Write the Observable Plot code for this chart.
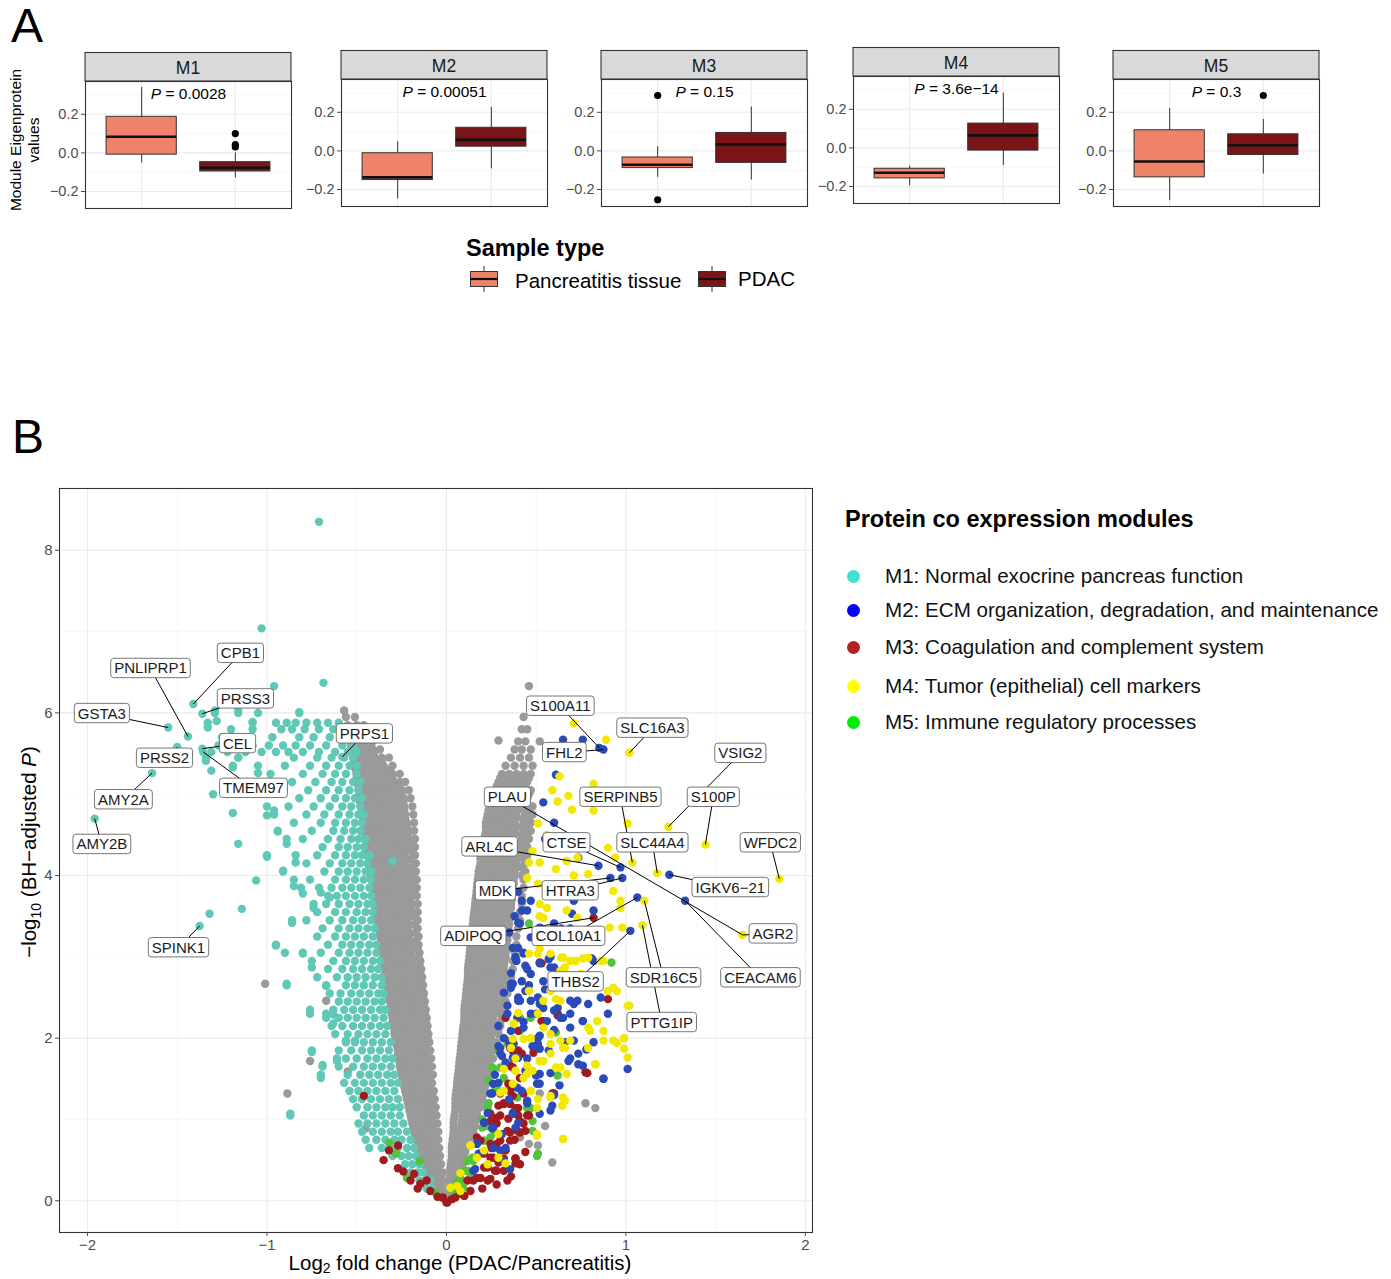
<!DOCTYPE html>
<html><head><meta charset="utf-8">
<script src="https://cdn.jsdelivr.net/npm/d3@7"></script>
<script src="https://cdn.jsdelivr.net/npm/@observablehq/plot@0.6"></script>
<style>
body{margin:0;background:#fff;}
#root{position:relative;width:1391px;height:1279px;overflow:hidden;background:#fff;font-family:"Liberation Sans",Arial,Helvetica,sans-serif;color:#000;}
.abs{position:absolute;white-space:nowrap;}
</style></head><body><div id="root"></div>
<script>
// ---------------- Panel A data ----------------
const modules = ["M1","M2","M3","M4","M5"];
const pValues = ["0.0028","0.00051","0.15","3.6e−14","0.3"];
const sampleTypes = ["Pancreatitis tissue","PDAC"];
// [lower whisker, Q1, median, Q3, upper whisker]
const pancStats = [[-0.052,-0.009,0.084,0.187,0.339],[-0.249,-0.151,-0.137,-0.012,0.048],[-0.137,-0.089,-0.072,-0.034,0.022],[-0.197,-0.158,-0.129,-0.108,-0.094],[-0.258,-0.137,-0.055,0.107,0.22]];
const pdacStats = [[-0.13,-0.096,-0.077,-0.048,0.0],[-0.093,0.022,0.057,0.12,0.225],[-0.151,-0.062,0.034,0.093,0.228],[-0.091,-0.014,0.065,0.126,0.284],[-0.12,-0.021,0.029,0.086,0.163]];
const outlierModule = ["M1","M1","M1","M3","M3","M5"];
const outlierSample = ["PDAC","PDAC","PDAC","Pancreatitis tissue","Pancreatitis tissue","PDAC"];
const outlierValue = [0.10,0.043,0.031,0.287,-0.253,0.287];
const boxColors = ["#EE836A","#7B1416"];

// ---------------- Panel B data ----------------
const moduleNames = ["M1: Normal exocrine pancreas function","M2: ECM organization, degradation, and maintenance","M3: Coagulation and complement system","M4: Tumor (epithelial) cell markers","M5: Immune regulatory processes"];
const legendColors = ["#40E0D0","#0000FF","#B22222","#FFFF00","#00EE00"];
const pointColors = ["#5FC8B6","#2A4BB7","#A11A1E","#F2E800","#55C23C"];
const greyColor = "#9A9A9A";
const xTicks = [-2,-1,0,1,2];
const yTicks = [0,2,4,6,8];
const xMinor = [-1.5,-0.5,0.5,1.5];
const yMinor = [1,3,5,7];

// rows: [-log10 P, log2FC values...]
const greyLeftRows = [
[0.05,-0.03,-0.01],[0.15,-0.06,-0.035,-0.01],[0.25,-0.08,-0.05,-0.02],[0.35,-0.1,-0.07,-0.04,-0.02],
[0.45,-0.12,-0.09,-0.06,-0.03],[0.55,-0.14,-0.1,-0.07,-0.035],[0.65,-0.15,-0.12,-0.08,-0.04],
[0.75,-0.17,-0.13,-0.09,-0.045],[0.85,-0.18,-0.14,-0.1,-0.065,-0.045],[0.95,-0.19,-0.15,-0.11,-0.075,-0.05],
[1.05,-0.2,-0.16,-0.12,-0.085,-0.055],[1.15,-0.21,-0.17,-0.13,-0.09,-0.06],[1.25,-0.22,-0.18,-0.14,-0.1,-0.065],
[1.35,-0.23,-0.19,-0.15,-0.11,-0.07],[1.45,-0.24,-0.2,-0.16,-0.12,-0.08],[1.55,-0.25,-0.21,-0.17,-0.13,-0.09,-0.075],
[1.65,-0.26,-0.22,-0.18,-0.14,-0.1,-0.08],[1.75,-0.265,-0.225,-0.185,-0.145,-0.11,-0.085],[1.85,-0.27,-0.23,-0.19,-0.15,-0.115,-0.09],
[1.95,-0.28,-0.24,-0.2,-0.16,-0.12,-0.095],[2.05,-0.29,-0.25,-0.21,-0.17,-0.13,-0.1],[2.15,-0.295,-0.255,-0.215,-0.175,-0.135,-0.105],
[2.25,-0.3,-0.26,-0.22,-0.18,-0.14,-0.11],[2.35,-0.31,-0.27,-0.23,-0.19,-0.15,-0.115],[2.45,-0.315,-0.275,-0.235,-0.195,-0.155,-0.12],
[2.55,-0.32,-0.28,-0.24,-0.2,-0.16,-0.125],[2.65,-0.33,-0.29,-0.25,-0.21,-0.17,-0.13],[2.75,-0.335,-0.295,-0.255,-0.215,-0.175,-0.135],
[2.85,-0.34,-0.3,-0.26,-0.22,-0.18,-0.14],[2.95,-0.35,-0.31,-0.27,-0.23,-0.19,-0.145],[3.05,-0.355,-0.315,-0.275,-0.235,-0.195,-0.15],
[3.15,-0.36,-0.32,-0.28,-0.24,-0.2,-0.155],[3.25,-0.37,-0.33,-0.29,-0.25,-0.21,-0.155],[3.35,-0.375,-0.335,-0.295,-0.255,-0.215,-0.16],
[3.45,-0.38,-0.34,-0.3,-0.26,-0.22,-0.16],[3.55,-0.39,-0.35,-0.31,-0.27,-0.23,-0.19,-0.16],[3.65,-0.395,-0.355,-0.315,-0.275,-0.235,-0.195,-0.16],
[3.75,-0.4,-0.36,-0.32,-0.28,-0.24,-0.2,-0.165],[3.85,-0.41,-0.37,-0.33,-0.29,-0.25,-0.21,-0.165],[3.95,-0.415,-0.375,-0.335,-0.295,-0.255,-0.215,-0.165],
[4.05,-0.42,-0.38,-0.34,-0.3,-0.26,-0.22,-0.17],[4.15,-0.43,-0.39,-0.35,-0.31,-0.27,-0.23,-0.17],[4.25,-0.435,-0.395,-0.355,-0.315,-0.275,-0.235,-0.175],
[4.35,-0.44,-0.4,-0.36,-0.32,-0.28,-0.24,-0.2,-0.175],[4.45,-0.45,-0.41,-0.37,-0.33,-0.29,-0.25,-0.21,-0.175],[4.55,-0.455,-0.415,-0.375,-0.335,-0.295,-0.255,-0.215,-0.18],
[4.65,-0.46,-0.42,-0.38,-0.34,-0.3,-0.26,-0.22,-0.18],[4.75,-0.47,-0.43,-0.39,-0.35,-0.31,-0.27,-0.23,-0.185],[4.85,-0.475,-0.435,-0.395,-0.355,-0.315,-0.275,-0.235,-0.19],
[4.95,-0.48,-0.44,-0.4,-0.36,-0.32,-0.28,-0.24,-0.2],[5.05,-0.49,-0.45,-0.41,-0.37,-0.33,-0.29,-0.25,-0.21],[5.15,-0.5,-0.46,-0.42,-0.38,-0.34,-0.3,-0.26,-0.23],
[5.25,-0.5,-0.46,-0.42,-0.38,-0.34,-0.3,-0.26],[5.35,-0.51,-0.47,-0.43,-0.39,-0.35,-0.3],[5.45,-0.52,-0.48,-0.44,-0.4,-0.36,-0.32],
[5.55,-0.53,-0.49,-0.45,-0.41,-0.37],[5.65,-0.53,-0.49,-0.45,-0.41],[5.75,-0.54,-0.5,-0.46,-0.43],[5.85,-0.55,-0.5,-0.46],[5.95,-0.56,-0.51]
];
const greyLeftRowsB = [
[0.1,-0.045,-0.02],[0.2,-0.065,-0.035],[0.3,-0.09,-0.06,-0.03],[0.4,-0.11,-0.08,-0.05],[0.5,-0.13,-0.1,-0.07,-0.045],
[0.6,-0.145,-0.11,-0.075,-0.05],[0.7,-0.16,-0.125,-0.09,-0.06],[0.8,-0.175,-0.14,-0.1,-0.065],[0.9,-0.185,-0.15,-0.115,-0.08],
[1.0,-0.195,-0.16,-0.12,-0.085],[1.1,-0.205,-0.17,-0.13,-0.095,-0.07],[1.2,-0.215,-0.18,-0.14,-0.1,-0.075],[1.3,-0.225,-0.19,-0.15,-0.11,-0.08],
[1.4,-0.235,-0.2,-0.16,-0.12,-0.09],[1.5,-0.245,-0.21,-0.17,-0.13,-0.1],[1.6,-0.255,-0.22,-0.18,-0.14,-0.11],[1.7,-0.26,-0.225,-0.185,-0.145,-0.11],
[1.8,-0.27,-0.23,-0.19,-0.15,-0.115],[1.9,-0.275,-0.24,-0.2,-0.16,-0.12],[2.0,-0.285,-0.25,-0.21,-0.17,-0.13,-0.105],[2.1,-0.29,-0.255,-0.215,-0.175,-0.135,-0.11],
[2.2,-0.3,-0.26,-0.22,-0.18,-0.14,-0.115],[2.3,-0.305,-0.27,-0.23,-0.19,-0.15,-0.12],[2.4,-0.31,-0.275,-0.235,-0.195,-0.155,-0.125],
[2.5,-0.32,-0.28,-0.24,-0.2,-0.16,-0.13],[2.6,-0.325,-0.29,-0.25,-0.21,-0.17,-0.135],[2.7,-0.33,-0.295,-0.255,-0.215,-0.175,-0.14],
[2.8,-0.34,-0.3,-0.26,-0.22,-0.18,-0.145],[2.9,-0.345,-0.31,-0.27,-0.23,-0.19,-0.15],[3.0,-0.35,-0.315,-0.275,-0.235,-0.195,-0.155],
[3.1,-0.36,-0.32,-0.28,-0.24,-0.2,-0.16],[3.2,-0.365,-0.33,-0.29,-0.25,-0.21,-0.17],[3.3,-0.37,-0.335,-0.295,-0.255,-0.215,-0.175],
[3.4,-0.38,-0.34,-0.3,-0.26,-0.22,-0.18],[3.5,-0.385,-0.35,-0.31,-0.27,-0.23,-0.19],[3.6,-0.39,-0.355,-0.315,-0.275,-0.235,-0.195],
[3.7,-0.4,-0.36,-0.32,-0.28,-0.24,-0.2],[3.8,-0.405,-0.37,-0.33,-0.29,-0.25,-0.21,-0.18],[3.9,-0.41,-0.375,-0.335,-0.295,-0.255,-0.215,-0.185],
[4.0,-0.42,-0.38,-0.34,-0.3,-0.26,-0.22,-0.19],[4.1,-0.425,-0.39,-0.35,-0.31,-0.27,-0.23,-0.195],[4.2,-0.43,-0.395,-0.355,-0.315,-0.275,-0.235,-0.2],
[4.3,-0.44,-0.4,-0.36,-0.32,-0.28,-0.24,-0.2],[4.4,-0.445,-0.41,-0.37,-0.33,-0.29,-0.25,-0.21],[4.5,-0.45,-0.415,-0.375,-0.335,-0.295,-0.255,-0.215],
[4.6,-0.46,-0.42,-0.38,-0.34,-0.3,-0.26,-0.22],[4.7,-0.465,-0.43,-0.39,-0.35,-0.31,-0.27,-0.23],[4.8,-0.47,-0.435,-0.395,-0.355,-0.315,-0.275,-0.235],
[4.9,-0.48,-0.44,-0.4,-0.36,-0.32,-0.28,-0.24],[5.0,-0.485,-0.45,-0.41,-0.37,-0.33,-0.29,-0.25],[5.1,-0.49,-0.455,-0.415,-0.375,-0.335,-0.295,-0.26],
[5.2,-0.5,-0.46,-0.42,-0.38,-0.34,-0.3],[5.3,-0.505,-0.47,-0.43,-0.39,-0.35,-0.32],[5.4,-0.515,-0.475,-0.435,-0.395,-0.36],
[5.5,-0.52,-0.485,-0.445,-0.405],[5.6,-0.53,-0.49,-0.45,-0.42]
];
const greyRightRows = [
[0.05,0.01,0.03],[0.15,0.015,0.045],[0.25,0.02,0.05,0.07],[0.35,0.02,0.05,0.08],[0.45,0.025,0.06,0.09],
[0.55,0.03,0.065,0.1],[0.65,0.03,0.07,0.11],[0.75,0.035,0.075,0.115,0.14],[0.85,0.04,0.08,0.12,0.15],
[0.95,0.04,0.085,0.125,0.16],[1.05,0.045,0.09,0.13,0.17],[1.15,0.05,0.09,0.13,0.17,0.19],[1.25,0.05,0.09,0.13,0.17,0.2],
[1.35,0.055,0.095,0.135,0.175,0.21],[1.45,0.06,0.1,0.14,0.18,0.22],[1.55,0.065,0.105,0.145,0.185,0.225],
[1.65,0.07,0.11,0.15,0.19,0.23,0.25],[1.75,0.075,0.115,0.155,0.195,0.235,0.26],[1.85,0.08,0.12,0.16,0.2,0.24,0.27],
[1.95,0.085,0.125,0.165,0.205,0.245,0.28],[2.05,0.09,0.13,0.17,0.21,0.25,0.29],[2.15,0.095,0.135,0.175,0.215,0.255,0.3],
[2.25,0.1,0.14,0.18,0.22,0.26,0.31],[2.35,0.1,0.14,0.18,0.22,0.26,0.3,0.32],[2.45,0.105,0.145,0.185,0.225,0.265,0.305,0.33],
[2.55,0.11,0.15,0.19,0.23,0.27,0.31,0.34],[2.65,0.115,0.155,0.195,0.235,0.275,0.315,0.35],[2.75,0.12,0.16,0.2,0.24,0.28,0.32,0.36],
[2.85,0.12,0.16,0.2,0.24,0.28,0.32,0.37],[2.95,0.125,0.165,0.205,0.245,0.285,0.325,0.37],[3.05,0.13,0.17,0.21,0.25,0.29,0.33,0.38],
[3.15,0.135,0.175,0.215,0.255,0.295,0.335,0.39],[3.25,0.14,0.18,0.22,0.26,0.3,0.34,0.39],[3.35,0.145,0.185,0.225,0.265,0.305,0.345,0.4],
[3.45,0.15,0.19,0.23,0.27,0.31,0.35,0.41],[3.55,0.155,0.195,0.235,0.275,0.315,0.355,0.41],[3.65,0.16,0.2,0.24,0.28,0.32,0.36,0.42],
[3.75,0.165,0.205,0.245,0.285,0.325,0.365,0.42],[3.85,0.17,0.21,0.25,0.29,0.33,0.37,0.43],[3.95,0.175,0.215,0.255,0.295,0.335,0.375,0.43],
[4.05,0.18,0.22,0.26,0.3,0.34,0.38,0.44],[4.15,0.19,0.23,0.27,0.31,0.35,0.39,0.44],[4.25,0.19,0.23,0.27,0.31,0.35,0.4,0.45],
[4.35,0.2,0.24,0.28,0.32,0.36,0.41,0.45],[4.45,0.21,0.25,0.29,0.33,0.37,0.42,0.46],[4.55,0.22,0.26,0.3,0.34,0.38,0.43,0.47],
[4.65,0.22,0.26,0.3,0.34,0.38,0.43,0.47],[4.75,0.23,0.27,0.31,0.35,0.39,0.44,0.48],[4.85,0.24,0.28,0.32,0.36,0.4,0.44,0.48],
[4.95,0.25,0.29,0.33,0.37,0.41,0.45],[5.05,0.27,0.31,0.35,0.39,0.43,0.47],[5.15,0.29,0.33,0.37,0.41,0.45],
[5.25,0.31,0.35,0.39,0.43,0.47],[5.35,0.33,0.38,0.43,0.48],[5.45,0.36,0.41,0.46],[5.55,0.38,0.42,0.47],
[5.65,0.4,0.44,0.52],[5.8,0.42,0.45],[5.95,0.43]
];
const greyRightRowsB = [
[0.1,0.012,0.04],[0.2,0.018,0.048],[0.3,0.02,0.05,0.075],[0.4,0.022,0.055,0.085],[0.5,0.028,0.062,0.095],
[0.6,0.03,0.068,0.105],[0.7,0.032,0.072,0.11,0.13],[0.8,0.038,0.078,0.118,0.145],[0.9,0.04,0.082,0.122,0.155],
[1.0,0.042,0.088,0.128,0.165],[1.1,0.048,0.09,0.13,0.17],[1.2,0.05,0.09,0.13,0.17,0.195],[1.3,0.052,0.092,0.132,0.172,0.205],
[1.4,0.058,0.098,0.138,0.178,0.215],[1.5,0.062,0.102,0.142,0.182,0.222],[1.6,0.068,0.108,0.148,0.188,0.228],
[1.7,0.072,0.112,0.152,0.192,0.232],[1.8,0.078,0.118,0.158,0.198,0.238],[1.9,0.082,0.122,0.162,0.202,0.242],
[2.0,0.088,0.128,0.168,0.208,0.248],[2.1,0.092,0.132,0.172,0.212,0.252,0.29],[2.2,0.098,0.138,0.178,0.218,0.258,0.3],
[2.3,0.1,0.14,0.18,0.22,0.26,0.3],[2.4,0.102,0.142,0.182,0.222,0.262,0.3],[2.5,0.108,0.148,0.188,0.228,0.268,0.31],
[2.6,0.112,0.152,0.192,0.232,0.272,0.31],[2.7,0.118,0.158,0.198,0.238,0.278,0.32],[2.8,0.12,0.16,0.2,0.24,0.28,0.32],
[2.9,0.122,0.162,0.202,0.242,0.282,0.322],[3.0,0.128,0.168,0.208,0.248,0.288,0.33],[3.1,0.132,0.172,0.212,0.252,0.292,0.335],
[3.2,0.138,0.178,0.218,0.258,0.298,0.34],[3.3,0.142,0.182,0.222,0.262,0.302,0.345],[3.4,0.148,0.188,0.228,0.268,0.308,0.35],
[3.5,0.152,0.192,0.232,0.272,0.312,0.355],[3.6,0.158,0.198,0.238,0.278,0.318,0.36],[3.7,0.162,0.202,0.242,0.282,0.322,0.365],
[3.8,0.168,0.208,0.248,0.288,0.328,0.37],[3.9,0.172,0.212,0.252,0.292,0.332,0.375],[4.0,0.178,0.218,0.258,0.298,0.338,0.38,0.42],
[4.1,0.185,0.225,0.265,0.305,0.345,0.385,0.42],[4.2,0.19,0.23,0.27,0.31,0.35,0.39,0.43],[4.3,0.195,0.235,0.275,0.315,0.355,0.395,0.43],
[4.4,0.205,0.245,0.285,0.325,0.365,0.405,0.44],[4.5,0.215,0.255,0.295,0.335,0.375,0.415,0.45],[4.6,0.22,0.26,0.3,0.34,0.38,0.42,0.45],
[4.7,0.225,0.265,0.305,0.345,0.385,0.425,0.46],[4.8,0.235,0.275,0.315,0.355,0.395,0.435,0.46],[4.9,0.245,0.285,0.325,0.365,0.405,0.445],
[5.0,0.26,0.3,0.34,0.38,0.42,0.46],[5.1,0.28,0.32,0.36,0.4,0.44],[5.2,0.3,0.34,0.38,0.42,0.46]
];
const greyOutliers = [[-1.01,2.67],[-0.886,1.32],[-0.76,1.72],[-0.67,2.46],[-0.55,1.59],[-0.45,0.89],[0.775,1.2],[0.83,1.14],[0.55,0.92],[0.46,0.7],[0.51,0.68],[0.59,0.47],[0.52,1.32],[0.41,0.78],[0.46,6.33],[-0.57,6.03],[0.29,5.66]];

const m1Rows = [
[0.15,-0.11,-0.08],[0.25,-0.15,-0.12,-0.09],[0.35,-0.2,-0.16,-0.13],[0.45,-0.23,-0.19,-0.15],
[0.55,-0.3,-0.25,-0.21,-0.17],[0.65,-0.43,-0.36,-0.31,-0.27,-0.22,-0.18],[0.75,-0.45,-0.39,-0.34,-0.29,-0.25,-0.2],
[0.85,-0.47,-0.41,-0.36,-0.31,-0.27,-0.22],[0.95,-0.49,-0.44,-0.39,-0.34,-0.29,-0.24],[1.05,-0.87,-0.46,-0.41,-0.36,-0.31,-0.26],
[1.15,-0.5,-0.44,-0.39,-0.34,-0.3,-0.26],[1.25,-0.52,-0.47,-0.42,-0.37,-0.32,-0.27],[1.35,-0.54,-0.49,-0.44,-0.39,-0.34,-0.29],
[1.45,-0.57,-0.51,-0.46,-0.41,-0.36,-0.31,-0.27],[1.55,-0.7,-0.55,-0.48,-0.43,-0.38,-0.33,-0.29],[1.65,-0.69,-0.6,-0.52,-0.46,-0.41,-0.36,-0.31],
[1.75,-0.61,-0.56,-0.5,-0.44,-0.39,-0.34,-0.3],[1.85,-0.75,-0.6,-0.53,-0.47,-0.42,-0.37,-0.32],[1.95,-0.56,-0.51,-0.46,-0.41,-0.36,-0.31],
[2.05,-0.62,-0.55,-0.49,-0.44,-0.39,-0.34],[2.15,-0.64,-0.58,-0.52,-0.47,-0.42,-0.37,-0.33],[2.25,-0.67,-0.6,-0.55,-0.5,-0.45,-0.4,-0.35],
[2.35,-0.76,-0.63,-0.57,-0.52,-0.47,-0.42,-0.37,-0.34],[2.45,-0.6,-0.55,-0.5,-0.45,-0.4,-0.36],[2.55,-0.65,-0.59,-0.53,-0.48,-0.43,-0.38,-0.35],
[2.65,-0.89,-0.67,-0.56,-0.51,-0.46,-0.41,-0.36],[2.75,-0.72,-0.61,-0.55,-0.5,-0.45,-0.4,-0.36],[2.85,-0.66,-0.58,-0.52,-0.47,-0.42,-0.38],
[2.95,-0.75,-0.63,-0.56,-0.51,-0.46,-0.41,-0.37],[3.05,-0.8,-0.7,-0.6,-0.54,-0.49,-0.44,-0.39],[3.15,-0.95,-0.66,-0.58,-0.53,-0.48,-0.43,-0.39],
[3.25,-0.72,-0.62,-0.56,-0.51,-0.46,-0.41],[3.35,-0.69,-0.6,-0.54,-0.49,-0.44,-0.4],[3.45,-0.86,-0.78,-0.65,-0.58,-0.52,-0.47,-0.42],
[3.55,-0.72,-0.62,-0.56,-0.5,-0.45,-0.41],[3.65,-0.74,-0.67,-0.6,-0.54,-0.49,-0.44,-0.41],[3.75,-0.66,-0.61,-0.56,-0.51,-0.46,-0.42],
[3.85,-0.81,-0.71,-0.64,-0.58,-0.53,-0.48,-0.43],[3.95,-0.85,-0.76,-0.62,-0.56,-0.51,-0.46,-0.42],[4.05,-0.91,-0.68,-0.6,-0.55,-0.5,-0.45,-0.42],
[4.15,-0.78,-0.65,-0.58,-0.53,-0.48,-0.44],[4.25,-1.0,-0.84,-0.72,-0.62,-0.56,-0.51,-0.47,-0.43],[4.35,-0.69,-0.6,-0.55,-0.5,-0.46],
[4.45,-0.89,-0.8,-0.66,-0.59,-0.53,-0.49,-0.45],[4.55,-0.94,-0.75,-0.63,-0.57,-0.52,-0.48],[4.65,-0.85,-0.7,-0.62,-0.56,-0.51,-0.47],
[4.75,-0.96,-0.78,-0.68,-0.6,-0.54,-0.49,-0.46],[4.85,-1.0,-0.88,-0.74,-0.65,-0.58,-0.53,-0.48],[4.95,-0.82,-0.7,-0.62,-0.56,-0.51,-0.47],
[5.05,-0.93,-0.77,-0.67,-0.6,-0.54,-0.49],[5.15,-0.86,-0.73,-0.64,-0.58,-0.52,-0.48],[5.25,-0.98,-0.8,-0.69,-0.62,-0.56,-0.5],
[5.35,-1.19,-1.05,-0.9,-0.76,-0.67,-0.6,-0.54,-0.5],[5.45,-1.34,-1.16,-0.85,-0.72,-0.64,-0.57,-0.52],
[5.52,-1.31,-1.22,-1.12,-1.03,-0.95,-0.88,-0.8,-0.71,-0.62,-0.55,-0.5],[5.6,-1.27,-1.18,-1.08,-0.99,-0.91,-0.84,-0.76,-0.67,-0.58,-0.52],
[5.7,-1.25,-0.97,-0.82,-0.74,-0.65,-0.57],[5.8,-1.2,-1.08,-0.92,-0.86,-0.79,-0.71,-0.63,-0.56],
[5.88,-1.33,-1.08,-0.95,-0.89,-0.84,-0.78,-0.72,-0.66,-0.6],[6.0,-1.29,-1.16,-1.05,-0.82]
];
const m1Scatter = [[-0.71,8.35],[-1.03,7.04],[-0.685,6.37],[-0.96,6.33],[-1.44,5.71],[-1.41,6.11],[-1.36,5.99],[-1.55,5.82],[-1.36,5.56],[-1.5,5.58],[-1.355,5.52],[-1.64,5.26],[-1.96,4.7],[-1.375,3.38],[-0.58,5.46],
[-1.32,3.53],[-1.16,4.39],[-1.14,3.59],[-1.06,3.94],[-1.0,4.23],[-1.16,5.45],[-1.19,5.33],[-1.19,4.77],[-1.31,5.29],[-1.34,5.41],[-1.3,5.0],[-1.33,5.82],[-1.28,5.9],[-1.29,6.03],[-1.16,6.03],[-1.08,5.89],[-0.82,6.01],[-1.05,5.26],[-1.0,4.74],[-0.96,4.8],[-0.94,4.54],[-0.89,4.39],[-0.84,4.16],[-0.85,3.87],[-0.8,3.78],[-0.91,4.06],[-0.95,3.14],[-0.9,3.05],[-0.86,3.42],[-0.8,3.04],[-0.75,2.87],[-0.74,3.6],[-0.7,3.79],[-0.65,3.73],[-0.89,2.67],[-0.76,2.3],[-0.67,2.64],[-0.75,1.83],[-0.69,1.67],[-0.7,1.51],[-0.61,1.72],[-0.87,1.07],[-0.67,2.3],[-0.63,2.29],[-0.63,2.18],[-0.56,1.97],[-0.51,1.97],[-0.3,4.18]];
const m2Points = [[0.852,5.57],[0.875,5.55],[0.65,5.67],[0.76,5.67],[0.61,5.24],[0.54,4.9],[0.6,4.65],[0.847,4.12],[0.97,4.1],[1.242,4.01],[0.914,3.97],[0.98,3.97],[0.735,4.22],[0.4,3.8],[1.064,3.73],[1.33,3.69],[1.025,3.32],[0.42,3.69],[0.47,3.69],[0.45,3.57],[0.71,3.69],[0.82,3.57],[0.41,3.41],[0.47,3.24],[0.4,3.11],[0.43,3.04],[0.52,2.92],[0.58,2.87],[0.82,2.95],[0.36,2.67],[0.47,2.79],[0.41,2.46],[0.52,2.42],[0.71,2.42],[0.62,2.37],[0.76,2.21],[0.73,2.46],[0.71,1.97],[0.56,2.21],
[0.385,3.0],[0.44,2.89],[0.32,2.56],[0.37,2.67],[0.4,2.5],[0.47,2.46],[0.57,2.97],[0.69,2.46],[0.79,2.42],[0.5,2.3],[0.65,2.25],[0.69,2.13],[0.29,2.15],[0.36,2.09],[0.32,2.0],[0.52,2.03],[0.57,1.85],[0.69,1.75],[0.735,1.68],[1.01,1.62],[0.875,1.5],[0.3,1.81],[0.33,1.7],[0.4,1.76],[0.52,1.56],[0.245,1.32],[0.29,1.45],[0.505,1.44],[0.58,1.11],[0.52,1.07],[0.21,0.96],[0.26,0.9],[0.37,1.07],[0.17,0.7],[0.32,0.49],[0.26,0.65],[0.15,0.37],[0.385,0.9],
[0.35,3.3],[0.38,3.5],[0.36,2.8],[0.39,2.95],[0.34,2.4],[0.43,2.2],[0.46,2.65],[0.55,2.6],[0.6,2.1],[0.44,1.6],[0.48,1.9],[0.27,1.55],[0.35,1.25],[0.42,1.35],[0.63,1.42],[0.6,1.3],[0.66,1.95],[0.82,1.95],[0.78,1.86],[0.9,2.3],[0.86,2.5],[0.55,4.45],[0.64,3.35],[0.35,1.95],[0.45,1.2],
[0.42,3.57],[0.4,3.42],[0.37,3.11],[0.385,2.98],[0.43,3.05],[0.45,2.85],[0.42,2.7],[0.36,2.62],[0.44,2.58],[0.4,2.46],[0.51,2.5],[0.34,2.3],[0.395,2.25],[0.47,2.3],[0.36,2.09],[0.43,2.13],[0.3,1.88],[0.375,1.93],[0.51,2.0],[0.54,2.37],[0.6,2.34],[0.635,2.25],[0.69,2.3],[0.76,2.21],[0.54,2.7],[0.6,2.87],[0.71,2.74],[0.58,3.0],[0.81,2.98],[0.51,3.28],[0.52,3.36],[0.7,3.53],[0.69,3.35],[0.6,3.41],
[0.29,1.9],[0.31,1.78],[0.37,1.76],[0.45,1.75],[0.51,1.93],[0.58,1.57],[0.52,1.44],[0.5,1.54],[0.26,1.44],[0.255,1.32],[0.395,1.39],[0.45,1.23],[0.59,1.17],[0.23,1.08],[0.37,1.08],[0.21,0.96],[0.4,0.96],[0.255,0.89],[0.31,0.82],[0.17,0.7],[0.33,0.65],[0.18,0.58],[0.3,0.62],[0.16,0.39],[0.355,0.39],[0.735,1.81],[0.875,1.5],[0.68,1.72],[0.76,1.66],[0.52,1.87]];
const m3Points = [[0.82,3.48],[0.53,2.92],[0.9,2.48],[0.62,2.3],[0.4,2.09],[0.54,2.21],[0.33,2.25],[0.62,2.28],[0.775,1.58],[0.37,1.85],[0.42,1.81],[0.485,1.82],[0.37,1.64],[0.355,1.35],[0.29,1.17],[0.32,1.2],[0.355,1.19],[0.4,1.14],[0.245,1.07],[0.3,1.05],[0.4,1.05],[0.43,0.95],[0.45,1.05],[0.59,1.32],[0.28,0.95],[0.355,0.84],[0.41,0.84],[0.17,0.78],[0.28,0.7],[0.19,0.58],[0.245,0.53],[0.385,0.52],[0.29,0.47],[0.21,0.41],[0.27,0.37],[0.17,0.28],[0.23,0.25],[0.117,0.25],[0.134,0.12],[0.32,0.37],[0.34,0.25],[0.36,0.3],[0.41,0.45],[0.44,0.6],[0.28,0.2],[0.2,0.15],[0.1,0.06],[0.03,0.02],[0.38,0.75],[0.33,0.62],[0.25,0.65],[0,-0.02],[0.05,0.04],
[0.52,2.93],[0.375,1.82],[0.4,1.83],[0.53,2.21],
[0.355,1.88],[0.4,1.85],[0.355,1.66],[0.41,1.51],[0.345,1.44],[0.3,1.32],[0.37,1.29],[0.43,1.32],[0.32,1.19],[0.385,1.14],[0.46,1.05],[0.28,1.02],[0.345,1.01],[0.245,0.98],[0.41,0.98],[0.34,0.86],[0.395,0.86],[0.19,0.74],[0.245,0.7],[0.3,0.74],[0.355,0.74],[0.21,0.58],[0.26,0.53],[0.32,0.52],[0.385,0.52],[0.23,0.41],[0.28,0.37],[0.19,0.28],[0.15,0.25],[0.245,0.27],[0.078,0.09],[0.005,-0.02],[0.785,1.57],[0.6,1.32],[0.44,0.86],[0.385,0.46],
[-0.46,1.29],[-0.27,0.68],[-0.35,0.5],[-0.32,0.62],[-0.24,0.36],[-0.18,0.33],[-0.145,0.21],[-0.11,0.25],[-0.09,0.12],[-0.02,0.04],[-0.2,0.25],[-0.16,0.15],[-0.05,0.05],[-0.27,0.4]];
const m4Points = [[0.71,5.87],[0.89,5.67],[1.02,5.51],[0.63,5.22],[0.82,5.13],[0.68,4.98],[0.62,4.91],[0.7,4.81],[0.82,4.8],[0.51,4.64],[1.01,4.64],[1.237,4.6],[0.9,4.34],[0.94,4.22],[0.46,4.16],[0.52,4.16],[0.67,4.18],[0.73,4.22],[0.61,4.08],[0.71,4.0],[0.79,4.02],[1.036,4.16],[1.175,4.03],[1.443,4.38],[1.855,3.96],[0.51,3.9],[0.45,3.97],[0.58,3.81],[0.79,3.79],[0.97,3.69],[1.103,3.69],[0.52,3.65],[0.54,3.48],[0.67,3.57],[0.73,3.48],[0.91,3.36],[0.98,3.36],[1.092,3.39],[1.65,3.27],[0.52,3.1],[0.58,3.04],[0.64,2.99],[0.72,2.95],[0.79,2.99],[0.875,2.95],[0.66,2.87],[0.75,2.79],[0.46,2.58],[0.58,2.58],[0.93,2.62],[1.02,2.4],[0.4,2.31],[0.51,2.3],[0.79,2.13],[0.875,1.97],[0.93,1.97],[0.99,2.0],
[0.46,3.04],[0.65,2.99],[0.76,2.98],[0.54,2.46],[0.635,2.46],[0.84,2.21],[0.8,2.09],[0.99,1.87],[1.01,1.76],[0.37,1.99],[0.43,1.99],[0.385,1.75],[0.45,1.66],[0.43,1.51],[0.54,1.72],[0.58,1.81],[0.65,1.88],[0.635,1.64],[0.67,1.56],[0.83,1.68],[0.37,1.44],[0.32,1.35],[0.47,1.35],[0.51,1.25],[0.58,1.27],[0.645,1.17],[0.65,1.27],[0.505,0.82],[0.65,0.76],[0.134,0.68],[0.21,0.62],[0.29,0.82],[0.078,0.12],[0.06,0.18],[0.23,0.45],[0.17,0.53],[0.56,4.5],[0.48,4.3],[0.59,5.05],
[0.52,3.5],[0.56,3.6],[0.51,3.04],[0.65,2.99],[0.69,2.95],[0.86,2.95],[0.635,2.83],[0.61,2.48],[0.9,2.58],[0.95,2.58],[0.93,3.81],[0.97,3.6],[1.01,2.4],[0.875,2.09],[0.99,2.0],[0.95,1.94],[0.54,2.13],[0.58,2.05],[0.635,1.97],[0.69,1.97],[0.375,2.18],[0.36,1.88],[0.79,1.88],[0.47,2.0],
[0.32,1.62],[0.385,1.6],[0.48,1.6],[0.3,1.33],[0.505,1.14],[0.47,1.35],[0.58,1.29],[0.66,1.23],[0.645,1.17],[0.505,0.8],[0.65,0.76],[0.134,0.68],[0.29,0.53],[0.33,0.46],[0.078,0.34],[0.022,0.16],[0.66,1.88],[0.58,1.93],[0.61,1.64],[0.83,1.68],[0.45,1.56],[0.52,1.72]];
const m5Points = [[0.46,3.41],[0.92,2.93],[0.61,2.07],[0.36,1.94],[0.47,2.25],[0.41,2.09],[0.34,1.97],[0.26,1.62],[0.3,1.64],[0.32,1.51],[0.62,1.54],[0.235,1.2],[0.47,1.14],[0.48,0.86],[0.23,0.92],[0.245,0.78],[0.27,0.84],[0.51,0.58],[0.21,0.74],[0.15,0.49],[0.095,0.37],[0.134,0.33],[0.06,0.25],[0.09,0.16],[-0.03,0.04],[0.02,0.02],[0.28,1.38],[0.2,1.0],
[0.41,2.25],[0.35,1.93],[0.255,1.64],[0.235,1.48],[0.23,1.14],[0.2,0.9],[0.17,0.7],[0.145,0.53],[0.117,0.37],[0.078,0.25],[0.04,0.12],[0.095,0.16],[0.27,1.35],[0.29,1.85],[0.34,1.93],[0.395,1.27],[0.45,1.14],[0.48,0.98],[0.505,0.55],[0.21,0.74],[0.27,0.65],[0.117,0.49],
[-0.32,0.71],[-0.28,0.58],[-0.15,0.49],[-0.22,0.28],[-0.06,0.1]];

const geneNames = ["PNLIPRP1","CPB1","PRSS3","GSTA3","CEL","PRSS2","TMEM97","AMY2A","AMY2B","SPINK1","PRPS1","S100A11","FHL2","SLC16A3","VSIG2","PLAU","SERPINB5","S100P","ARL4C","CTSE","SLC44A4","WFDC2","IGKV6−21","MDK","HTRA3","ADIPOQ","COL10A1","THBS2","SDR16C5","PTTG1IP","CEACAM6","AGR2"];
const labelX = [-1.649,-1.148,-1.12,-1.92,-1.164,-1.571,-1.075,-1.8,-1.92,-1.493,-0.457,0.635,0.657,1.148,1.638,0.34,0.97,1.487,0.24,0.669,1.148,1.805,1.582,0.273,0.69,0.15,0.68,0.72,1.21,1.2,1.75,1.82];
const labelY = [6.544,6.73,6.17,5.99,5.62,5.44,5.07,4.93,4.38,3.11,5.74,6.08,5.51,5.81,5.5,4.96,4.96,4.96,4.35,4.4,4.4,4.4,3.85,3.81,3.81,3.25,3.25,2.69,2.74,2.19,2.74,3.28];
const geneX = [-1.44,-1.41,-1.36,-1.55,-1.36,-1.5,-1.355,-1.64,-1.96,-1.375,-0.58,0.852,0.875,1.02,1.237,1.65,1.036,1.443,0.847,0.97,1.175,1.855,1.242,0.914,0.98,0.82,1.064,1.025,1.103,1.092,1.33,1.65];
const geneY = [5.71,6.11,5.99,5.82,5.56,5.58,5.52,5.26,4.7,3.38,5.46,5.57,5.55,5.51,4.6,3.27,4.16,4.38,4.12,4.1,4.03,3.96,4.01,3.97,3.97,3.48,3.73,3.32,3.69,3.39,3.69,3.27];

// ---------------- helpers ----------------
const FONT = "Liberation Sans, Arial, Helvetica, sans-serif";
const root = document.getElementById("root");
function addDiv(html, css) {
  const d = document.createElement("div");
  d.className = "abs"; d.innerHTML = html; Object.assign(d.style, css);
  root.appendChild(d); return d;
}
const rowsToPoints = rows => rows.flatMap(([y, ...xs]) => xs.map(x => ({x, y})));
const pairs = arr => arr.map(([x, y]) => ({x, y}));

// ---------------- Panel A ----------------
addDiv("A", {left: "11px", top: "-1px", fontSize: "48px", lineHeight: "54px"});
addDiv("Module Eigenprotein<br>values", {left: "-55px", top: "122px", width: "160px", textAlign: "center", fontSize: "15.5px", lineHeight: "18px", transform: "rotate(-90deg)"});

const facetLeft = [85, 341, 601, 853, 1113];
const facetTop = [80.5, 79.3, 79, 75.7, 79];
const ML = 45, PW = 206, ST = 29, PH = 127;
modules.forEach((m, i) => {
  const rows = sampleTypes.map((s, j) => {
    const st = (j ? pdacStats : pancStats)[i];
    return {pos: j + 1, lo: st[0], q1: st[1], med: st[2], q3: st[3], hi: st[4], fill: boxColors[j]};
  });
  const outs = outlierValue.map((v, k) => ({m: outlierModule[k], s: outlierSample[k], v}))
    .filter(d => d.m === m).map(d => ({pos: sampleTypes.indexOf(d.s) + 1, v: d.v}));
  const p = Plot.plot({
    width: ML + PW + 3, height: ST + PH + 3,
    marginLeft: ML, marginRight: 3, marginTop: ST, marginBottom: 3,
    style: {fontFamily: FONT, fontSize: "14.5px", color: "#4D4D4D", background: "transparent", overflow: "visible"},
    x: {domain: [0.4, 2.6], axis: null},
    y: {domain: [-0.288, 0.37]},
    color: {type: "identity"},
    marks: [
      Plot.gridY({ticks: [-0.1, 0.1, 0.3], stroke: "#F2F2F2", strokeOpacity: 1, strokeWidth: 0.6}),
      Plot.gridY({ticks: [-0.2, 0, 0.2], stroke: "#EBEBEB", strokeOpacity: 1, strokeWidth: 1.1}),
      Plot.gridX({ticks: [1, 2], stroke: "#EBEBEB", strokeOpacity: 1, strokeWidth: 1.1}),
      Plot.ruleX(rows, {x: "pos", y1: "lo", y2: "hi", stroke: "#333", strokeWidth: 1}),
      Plot.rect(rows, {x1: d => d.pos - 0.375, x2: d => d.pos + 0.375, y1: "q1", y2: "q3", fill: "fill", stroke: "#333", strokeWidth: 1}),
      Plot.ruleY(rows, {y: "med", x1: d => d.pos - 0.375, x2: d => d.pos + 0.375, stroke: "#111", strokeWidth: 2.6}),
      Plot.dot(outs, {x: "pos", y: "v", r: 3.6, fill: "#000"}),
      Plot.text([pValues[i]], {x: 1.5, y: 0.305, text: d => "P = " + d, fontSize: 15.5, fill: "#000", className: "plab"}),
      Plot.frame({stroke: "#333", strokeWidth: 1.1}),
      Plot.axisY({ticks: [-0.2, 0, 0.2], tickFormat: d3.format(".1f"), tickSize: 4, tickPadding: 3, fontSize: 14.5, label: null})
    ]
  });
  const svg = d3.select(p);
  svg.append("rect").attr("x", ML).attr("y", 0.5).attr("width", PW).attr("height", ST - 0.5)
    .attr("fill", "#D9D9D9").attr("stroke", "#333").attr("stroke-width", 1.1);
  svg.append("text").attr("x", ML + PW / 2).attr("y", ST / 2 + 1).attr("dy", "0.35em").attr("text-anchor", "middle")
    .attr("font-size", 17.5).attr("fill", "#1A1A1A").text(m);
  svg.selectAll("g.plab text").each(function() {
    const t = this.textContent.replace(/^P/, "");
    d3.select(this).text(null);
    d3.select(this).append("tspan").attr("font-style", "italic").text("P");
    d3.select(this).append("tspan").text(t);
  });
  p.style.position = "absolute";
  p.style.left = (facetLeft[i] - ML) + "px";
  p.style.top = (facetTop[i] - ST) + "px";
  root.appendChild(p);
});

// Legend A
addDiv("Sample type", {left: "466px", top: "235px", fontSize: "23.5px", fontWeight: "bold", lineHeight: "26px"});
function boxKey(color, left) {
  const s = d3.create("svg").attr("width", 30).attr("height", 26)
    .style("position", "absolute").style("left", left + "px").style("top", "266px");
  s.append("line").attr("x1", 15).attr("x2", 15).attr("y1", 0).attr("y2", 26).attr("stroke", "#333");
  s.append("rect").attr("x", 1.5).attr("y", 5.5).attr("width", 27).attr("height", 15).attr("fill", color).attr("stroke", "#333");
  s.append("line").attr("x1", 1.5).attr("x2", 28.5).attr("y1", 13).attr("y2", 13).attr("stroke", "#111").attr("stroke-width", 2.2);
  root.appendChild(s.node());
}
boxKey(boxColors[0], 469);
boxKey(boxColors[1], 697);
addDiv(sampleTypes[0], {left: "515px", top: "269px", fontSize: "20.5px", lineHeight: "24px"});
addDiv(sampleTypes[1], {left: "738px", top: "267px", fontSize: "20.5px", lineHeight: "24px"});

// ---------------- Panel B ----------------
addDiv("B", {left: "12px", top: "410px", fontSize: "48px", lineHeight: "54px"});

const greyData = [...rowsToPoints(greyLeftRows), ...rowsToPoints(greyLeftRowsB), ...rowsToPoints(greyRightRows), ...rowsToPoints(greyRightRowsB), ...pairs(greyOutliers)];
const m1Data = [...rowsToPoints(m1Rows), ...pairs(m1Scatter)];
const labelData = geneNames.map((name, k) => ({name, lx: labelX[k], ly: labelY[k], px: geneX[k], py: geneY[k]}));

const vol = Plot.plot({
  width: 820, height: 809, marginLeft: 59, marginRight: 8, marginTop: 18, marginBottom: 47,
  style: {fontFamily: FONT, fontSize: "15px", color: "#4D4D4D", background: "transparent", overflow: "visible"},
  x: {domain: [-2.156, 2.04]},
  y: {domain: [-0.39, 8.76]},
  marks: [
    Plot.gridX({ticks: xMinor, stroke: "#F2F2F2", strokeOpacity: 1, strokeWidth: 0.6}),
    Plot.gridY({ticks: yMinor, stroke: "#F2F2F2", strokeOpacity: 1, strokeWidth: 0.6}),
    Plot.gridX({ticks: xTicks, stroke: "#EBEBEB", strokeOpacity: 1, strokeWidth: 1.1}),
    Plot.gridY({ticks: yTicks, stroke: "#EBEBEB", strokeOpacity: 1, strokeWidth: 1.1}),
    Plot.dot(greyData, {x: "x", y: "y", r: 4.2, fill: greyColor}),
    Plot.dot(m1Data, {x: "x", y: "y", r: 4.2, fill: pointColors[0]}),
    Plot.dot(pairs(m5Points), {x: "x", y: "y", r: 4.2, fill: pointColors[4]}),
    Plot.dot(pairs(m3Points), {x: "x", y: "y", r: 4.2, fill: pointColors[2]}),
    Plot.dot(pairs(m2Points), {x: "x", y: "y", r: 4.2, fill: pointColors[1]}),
    Plot.dot(pairs(m4Points), {x: "x", y: "y", r: 4.2, fill: pointColors[3]}),
    Plot.link(labelData, {x1: "lx", y1: "ly", x2: "px", y2: "py", stroke: "#000", strokeWidth: 1}),
    Plot.text(labelData, {x: "lx", y: "ly", text: "name", fontSize: 15, fill: "#1A1A1A", className: "vlab"}),
    Plot.frame({stroke: "#333", strokeWidth: 1.1}),
    Plot.axisX({ticks: xTicks, tickFormat: d3.format("d"), tickSize: 4, tickPadding: 3, fontSize: 15, label: null}),
    Plot.axisY({ticks: yTicks, tickFormat: d3.format("d"), tickSize: 4, tickPadding: 3, fontSize: 15, label: null})
  ]
});
vol.style.position = "absolute";
vol.style.left = "0px";
vol.style.top = "470px";
root.appendChild(vol);
// label boxes (ggrepel style)
vol.querySelectorAll("g.vlab text").forEach(t => {
  const b = t.getBBox();
  const r = document.createElementNS("http://www.w3.org/2000/svg", "rect");
  r.setAttribute("x", b.x - 3.5); r.setAttribute("y", b.y - 1.2);
  r.setAttribute("width", b.width + 7); r.setAttribute("height", b.height + 2.4);
  r.setAttribute("rx", 3); r.setAttribute("fill", "#fff");
  r.setAttribute("stroke", "#666"); r.setAttribute("stroke-width", 0.9);
  const tr = t.getAttribute("transform");
  if (tr) r.setAttribute("transform", tr);
  t.parentNode.insertBefore(r, t);
});

// axis titles
addDiv("Log<span style=\"font-size:14px;vertical-align:-3px\">2</span> fold change (PDAC/Pancreatitis)",
  {left: "460px", top: "1251px", fontSize: "20.5px", lineHeight: "24px", transform: "translateX(-50%)"});
addDiv("−log<span style=\"font-size:14px;vertical-align:-5px\">10</span> (BH−adjusted <i>P</i>)",
  {left: "32px", top: "852px", fontSize: "20.5px", lineHeight: "24px", transform: "translate(-50%,-50%) rotate(-90deg)"});

// Legend B
addDiv("Protein co expression modules", {left: "845px", top: "506px", fontSize: "23.5px", fontWeight: "bold", lineHeight: "26px"});
const legendY = [576, 610, 647, 686, 722];
moduleNames.forEach((name, k) => {
  addDiv("", {left: (853 - 6.5) + "px", top: (legendY[k] - 6.5) + "px", width: "13px", height: "13px", borderRadius: "50%", background: legendColors[k]});
  addDiv(name, {left: "885px", top: (legendY[k] - 12) + "px", fontSize: "20.6px", lineHeight: "24px", color: "#111"});
});
</script></body></html>
